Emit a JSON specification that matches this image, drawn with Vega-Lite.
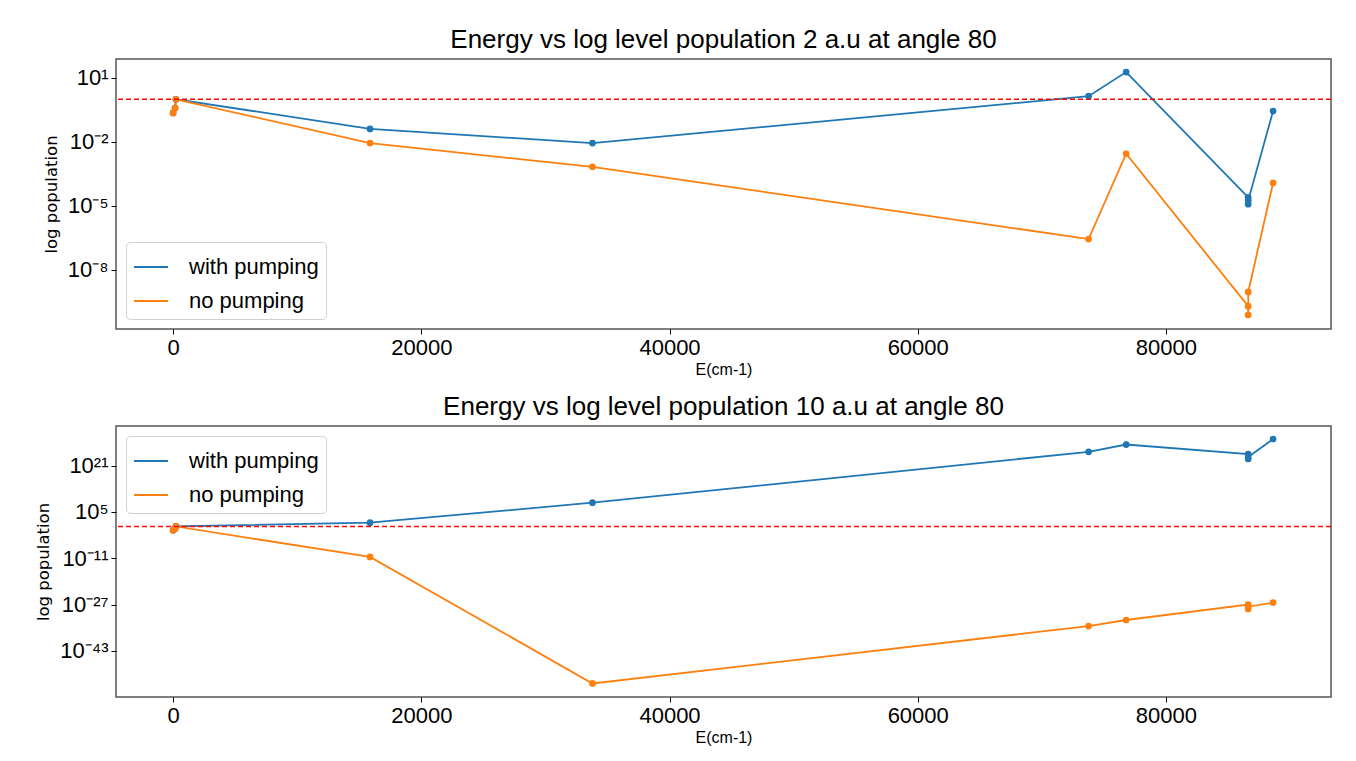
{
  "$schema": "https://vega.github.io/schema/vega-lite/v6.json",
  "background": "white",
  "padding": {"left": 35, "top": 26, "right": 22, "bottom": 10},
  "spacing": 97,
  "bounds": "flush",
  "resolve": {"legend": {"color": "independent"}},
  "config": {
    "view": {"stroke": "#555555", "strokeWidth": 1.5},
    "axis": {
      "domain": false, "grid": false, "tickSize": 5, "tickWidth": 1, "tickColor": "#000000",
      "labelFont": "Liberation Sans", "labelFontSize": 22, "labelColor": "#000000", "labelPadding": 3,
      "titleFontWeight": "normal", "titleColor": "#000000"
    },
    "axisX": {"titleFont": "Liberation Sans", "titleFontSize": 16, "titlePadding": 3},
    "axisY": {"titleFont": "DejaVu Sans", "titleFontSize": 16.5, "titlePadding": 8},
    "title": {"font": "Liberation Sans", "fontSize": 26, "fontWeight": "normal", "color": "#000000", "offset": 6, "anchor": "middle"}
  },
  "datasets": {
    "p1": [
      {"s": "with pumping", "E": 0, "p": 0.23},
      {"s": "with pumping", "E": 158.265, "p": 0.39},
      {"s": "with pumping", "E": 226.977, "p": 1.0},
      {"s": "with pumping", "E": 15867.862, "p": 0.041},
      {"s": "with pumping", "E": 33792.583, "p": 0.0089},
      {"s": "with pumping", "E": 73768.2, "p": 1.4},
      {"s": "with pumping", "E": 76794.978, "p": 19},
      {"s": "with pumping", "E": 86625.757, "p": 2.5e-5},
      {"s": "with pumping", "E": 86627.778, "p": 1.2e-5},
      {"s": "with pumping", "E": 86631.454, "p": 1.8e-5},
      {"s": "with pumping", "E": 88631.146, "p": 0.28},
      {"s": "no pumping", "E": 0, "p": 0.23},
      {"s": "no pumping", "E": 158.265, "p": 0.39},
      {"s": "no pumping", "E": 226.977, "p": 1.0},
      {"s": "no pumping", "E": 15867.862, "p": 0.0089},
      {"s": "no pumping", "E": 33792.583, "p": 6.8e-4},
      {"s": "no pumping", "E": 73768.2, "p": 2.8e-7},
      {"s": "no pumping", "E": 76794.978, "p": 2.8e-3},
      {"s": "no pumping", "E": 86625.757, "p": 2.0e-10},
      {"s": "no pumping", "E": 86627.778, "p": 7.8e-11},
      {"s": "no pumping", "E": 86631.454, "p": 9.3e-10},
      {"s": "no pumping", "E": 88631.146, "p": 1.2e-4}
    ],
    "p2": [
      {"s": "with pumping", "E": 0, "p": 0.05},
      {"s": "with pumping", "E": 158.265, "p": 0.15},
      {"s": "with pumping", "E": 226.977, "p": 1.0},
      {"s": "with pumping", "E": 15867.862, "p": 20},
      {"s": "with pumping", "E": 33792.583, "p": 1.6e8},
      {"s": "with pumping", "E": 73768.2, "p": 6e25},
      {"s": "with pumping", "E": 76794.978, "p": 2e28},
      {"s": "with pumping", "E": 86625.757, "p": 1e25},
      {"s": "with pumping", "E": 86627.778, "p": 2e23},
      {"s": "with pumping", "E": 86631.454, "p": 1e24},
      {"s": "with pumping", "E": 88631.146, "p": 1.6e30},
      {"s": "no pumping", "E": 0, "p": 0.05},
      {"s": "no pumping", "E": 158.265, "p": 0.15},
      {"s": "no pumping", "E": 226.977, "p": 1.0},
      {"s": "no pumping", "E": 15867.862, "p": 3e-11},
      {"s": "no pumping", "E": 33792.583, "p": 6e-55},
      {"s": "no pumping", "E": 73768.2, "p": 4e-35},
      {"s": "no pumping", "E": 76794.978, "p": 5e-33},
      {"s": "no pumping", "E": 86625.757, "p": 1e-27},
      {"s": "no pumping", "E": 86627.778, "p": 3e-29},
      {"s": "no pumping", "E": 86631.454, "p": 2e-28},
      {"s": "no pumping", "E": 88631.146, "p": 5e-27}
    ]
  },
  "vconcat": [
    {
      "title": {"text": "Energy vs log level population 2 a.u at angle 80"},
      "width": 1215,
      "height": 270,
      "layer": [
        {
          "data": {"name": "p1"},
          "mark": {"type": "line", "strokeWidth": 1.8, "point": {"filled": true, "size": 45, "opacity": 1}},
          "encoding": {
            "x": {"field": "E", "type": "quantitative", "scale": {"domain": [-4600, 93300], "nice": false, "zero": false},
              "axis": {"title": "E(cm-1)", "values": [0, 20000, 40000, 60000, 80000], "format": "d"}},
            "y": {"field": "p", "type": "quantitative", "scale": {"type": "log", "domain": [1.7e-11, 77.6], "nice": false},
              "axis": {"title": "log population", "values": [10, 0.01, 1e-5, 1e-8],
                "labelExpr": "'10' + replace(replace(replace(replace(replace(replace(replace(replace(replace(replace(replace('' + round(log(datum.value)/LN10), regexp('-','g'), '⁻'), regexp('0','g'), '⁰'), regexp('1','g'), '¹'), regexp('2','g'), '²'), regexp('3','g'), '³'), regexp('4','g'), '⁴'), regexp('5','g'), '⁵'), regexp('6','g'), '⁶'), regexp('7','g'), '⁷'), regexp('8','g'), '⁸'), regexp('9','g'), '⁹')"}},
            "color": {"field": "s", "type": "nominal",
              "scale": {"domain": ["with pumping", "no pumping"], "range": ["#1f77b4", "#ff7f0e"]},
              "legend": {"title": null, "orient": "bottom-left", "offset": 10, "symbolType": "stroke", "symbolSize": 1156, "symbolStrokeWidth": 2,
                "labelFont": "Liberation Sans", "labelFontSize": 22, "labelColor": "#000000", "labelOffset": 20, "padding": 7, "rowPadding": 5,
                "fillColor": "rgba(255,255,255,0.8)", "strokeColor": "#d0d0d0", "cornerRadius": 4}}
          }
        },
        {
          "data": {"values": [{}]},
          "mark": {"type": "rule", "color": "#ff0000", "strokeDash": [5, 3], "strokeWidth": 1.5},
          "encoding": {"y": {"datum": 1}}
        }
      ]
    },
    {
      "title": {"text": "Energy vs log level population 10 a.u at angle 80"},
      "width": 1215,
      "height": 271,
      "layer": [
        {
          "data": {"name": "p2"},
          "mark": {"type": "line", "strokeWidth": 1.8, "point": {"filled": true, "size": 45, "opacity": 1}},
          "encoding": {
            "x": {"field": "E", "type": "quantitative", "scale": {"domain": [-4600, 93300], "nice": false, "zero": false},
              "axis": {"title": "E(cm-1)", "values": [0, 20000, 40000, 60000, 80000], "format": "d"}},
            "y": {"field": "p", "type": "quantitative", "scale": {"type": "log", "domain": [1.26e-59, 5e34], "nice": false},
              "axis": {"title": "log population", "values": [1e21, 1e5, 1e-11, 1e-27, 1e-43],
                "labelExpr": "'10' + replace(replace(replace(replace(replace(replace(replace(replace(replace(replace(replace('' + round(log(datum.value)/LN10), regexp('-','g'), '⁻'), regexp('0','g'), '⁰'), regexp('1','g'), '¹'), regexp('2','g'), '²'), regexp('3','g'), '³'), regexp('4','g'), '⁴'), regexp('5','g'), '⁵'), regexp('6','g'), '⁶'), regexp('7','g'), '⁷'), regexp('8','g'), '⁸'), regexp('9','g'), '⁹')"}},
            "color": {"field": "s", "type": "nominal",
              "scale": {"domain": ["with pumping", "no pumping"], "range": ["#1f77b4", "#ff7f0e"]},
              "legend": {"title": null, "orient": "top-left", "offset": 10, "symbolType": "stroke", "symbolSize": 1156, "symbolStrokeWidth": 2,
                "labelFont": "Liberation Sans", "labelFontSize": 22, "labelColor": "#000000", "labelOffset": 20, "padding": 7, "rowPadding": 5,
                "fillColor": "rgba(255,255,255,0.8)", "strokeColor": "#d0d0d0", "cornerRadius": 4}}
          }
        },
        {
          "data": {"values": [{}]},
          "mark": {"type": "rule", "color": "#ff0000", "strokeDash": [5, 3], "strokeWidth": 1.5},
          "encoding": {"y": {"datum": 1}}
        }
      ]
    }
  ]
}
